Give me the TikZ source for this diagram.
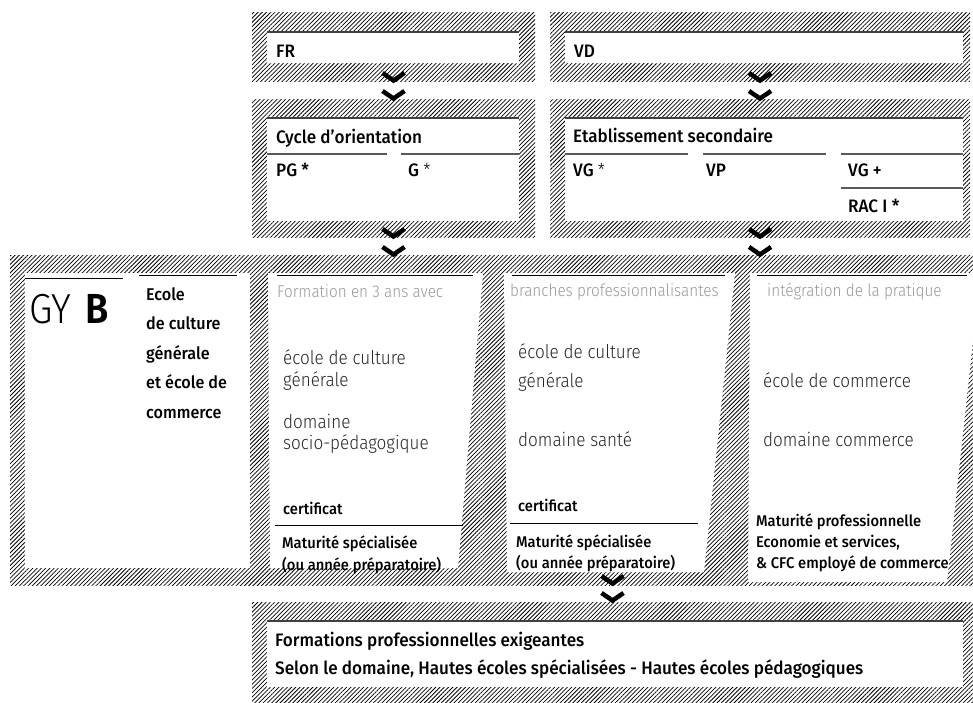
\documentclass[tikz,border=0pt]{standalone}
\usepackage{fontspec}
\IfFontExistsTF{Fira Sans Light}
  {\setmainfont{Fira Sans Light}[FakeStretch=0.9, BoldFont={Fira Sans Medium}, BoldFeatures={FakeStretch=0.95}]}
  {\setmainfont{Fira Sans}[FakeStretch=0.9, BoldFeatures={FakeStretch=0.95}]}
\IfFontExistsTF{Fira Sans SemiBold}
  {\newfontfamily\heavyfont{Fira Sans SemiBold}[FakeStretch=0.9]}
  {\newfontfamily\heavyfont{Fira Sans}[FakeStretch=0.9, UprightFont=*-Bold]}
\usetikzlibrary{patterns.meta,positioning,calc}

\begin{document}
\begin{tikzpicture}[x=1pt,y=-1pt,
    hatch/.style={pattern={Lines[angle=45,distance=3pt,line width=0.75pt]},pattern color=black,inner sep=0,outer sep=0,anchor=north west},
    white area/.style={fill=white,inner sep=0,outer sep=0,anchor=north west},
    rule/.style={draw=black!75,line width=1.3pt},
    thin rule/.style={draw=black,line width=0.9pt},
    head/.style={font=\fontsize{18}{20}\selectfont\bfseries,anchor=base west,inner sep=0},
    lbl/.style={font=\fontsize{15.5}{18}\selectfont\bfseries,anchor=base west,inner sep=0},
    big lbl/.style={font=\fontsize{17}{20}\selectfont\bfseries,anchor=base west,inner sep=0},
    soft/.style={font=\fontsize{19}{22}\selectfont,text=black!85,anchor=base west,inner sep=0},
    grey head/.style={font=\fontsize{17}{20}\selectfont,text=black!40,anchor=base west,inner sep=0},
    chev/.pic={\draw[line width=4.5pt,line join=miter] (-11,-4) -- (0,3.5) -- (11,-4);}]
  \useasboundingbox (0,0) rectangle (973,703);

  % cantons
  \node[hatch,minimum width=283pt,minimum height=69pt] (fr) at (252,13) {};
  \node[white area,minimum width=252pt,minimum height=31pt] (fr-in) at (267,32) {};
  \draw[rule] (fr-in.north west) -- (fr-in.north east);
  \node[head] (fr-txt) at (276,58) {FR};

  \node[hatch,minimum width=420pt,minimum height=69pt] (vd) at (550,13) {};
  \node[white area,minimum width=398pt,minimum height=31pt] (vd-in) at (565,32) {};
  \draw[rule] (vd-in.north west) -- (vd-in.north east);
  \node[head] (vd-txt) at (574,58) {VD};

  % ecoles secondaires
  \node[hatch,minimum width=283pt,minimum height=137pt] (cyc) at (252,100) {};
  \node[white area,minimum width=252pt,minimum height=103pt] (cyc-in) at (267,118) {};
  \draw[rule] (cyc-in.north west) -- (cyc-in.north east);
  \node[head] (cyc-txt) at (276,144) {Cycle d’orientation};
  \draw[rule,draw=black!65] (267,154) -- (387,154);
  \draw[rule,draw=black!65] (401,154) -- (519,154);
  \node[head] (pg) at (276,177) {PG *};
  \node[head] (g) at (408,177) {G {\mdseries *}};

  \node[hatch,minimum width=420pt,minimum height=137pt] (etab) at (550,100) {};
  \node[white area,minimum width=398pt,minimum height=103pt] (etab-in) at (565,118) {};
  \draw[rule] (etab-in.north west) -- (etab-in.north east);
  \node[head] (etab-txt) at (573,143) {Etablissement secondaire};
  \draw[rule,draw=black!65] (565,154) -- (688,154);
  \draw[rule,draw=black!65] (703,154) -- (826,154);
  \draw[rule,draw=black!65] (841,154) -- (963,154);
  \node[head] (vg) at (573,177) {VG {\mdseries *}};
  \node[head] (vp) at (706,177) {VP};
  \node[head] (vgp) at (848,177) {VG +};
  \draw[rule,draw=black!65] (841,188) -- (963,188);
  \node[head] (rac) at (848,213) {RAC I *};

  % GY B
  \node[hatch,minimum width=963pt,minimum height=330pt] (band) at (10,255) {};
  \fill[white] (25,273) rectangle (250,568);
  \fill[white] (268,273) -- (483,273) -- (458,568) -- (270,568) -- cycle;
  \fill[white] (504,273) -- (735,273) -- (704,572) -- (507,572) -- cycle;
  \fill[white] (750,273) -- (973,273) -- (973,340) -- (947,582) -- (748,582) -- cycle;
  \draw[thin rule] (25,278) -- (123,278);
  \draw[thin rule] (139,275) -- (237,275);
  \draw[thin rule] (277,275) -- (473,275);
  \draw[thin rule] (512,275) -- (725,275);
  \draw[thin rule] (757,275) -- (967,275);
  \draw[thin rule] (275,525) -- (463,525);
  \draw[thin rule] (510,523) -- (698,523);

  \node[anchor=base west,inner sep=0,font=\fontsize{42}{42}\selectfont] (gy) at (29,323) {GY\hspace{14pt}{\heavyfont B}};
  \node[big lbl] (ec1) at (146,300) {Ecole};
  \node[big lbl] (ec2) at (146,329.5) {de culture};
  \node[big lbl] (ec3) at (146,359) {générale};
  \node[big lbl] (ec4) at (146,388.5) {et école de};
  \node[big lbl] (ec5) at (146,418) {commerce};

  \node[grey head] (f-head) at (277,297) {Formation en 3 ans avec};
  \node[soft] (f1) at (283,364) {école de culture};
  \node[soft] (f2) at (283,386) {générale};
  \node[soft] (f3) at (283,428) {domaine};
  \node[soft] (f4) at (283,449) {socio-pédagogique};
  \node[lbl] (f-cert) at (283,514) {certificat};
  \node[lbl] (f-mat1) at (282,548) {Maturité spécialisée};
  \node[lbl] (f-mat2) at (282,570) {(ou année préparatoire)};

  \node[grey head] (b-head) at (510,296) {branches professionnalisantes};
  \node[soft] (b1) at (518,358) {école de culture};
  \node[soft] (b2) at (518,387) {générale};
  \node[soft] (b3) at (518,446) {domaine santé};
  \node[lbl] (b-cert) at (518,511) {certificat};
  \node[lbl] (b-mat1) at (516,547) {Maturité spécialisée};
  \node[lbl] (b-mat2) at (516,568) {(ou année préparatoire)};

  \node[grey head] (i-head) at (767,296) {intégration de la pratique};
  \node[soft] (i1) at (763,387) {école de commerce};
  \node[soft] (i2) at (763,446) {domaine commerce};
  \node[lbl] (i-mat1) at (756,526) {Maturité professionnelle};
  \node[lbl] (i-mat2) at (756,547) {Economie et services,};
  \node[lbl] (i-mat3) at (756,568) {\& CFC employé de commerce};

  % formations professionnelles
  \node[hatch,minimum width=721pt,minimum height=101pt] (fpe) at (252,602) {};
  \node[white area,minimum width=696pt,minimum height=66pt] (fpe-in) at (267,621) {};
  \draw[rule] (fpe-in.north west) -- (fpe-in.north east);
  \node[head] (fpe1) at (275,646) {Formations professionnelles exigeantes};
  \node[head] (fpe2) at (275,674) {Selon le domaine, Hautes écoles spécialisées - Hautes écoles pédagogiques};

  % chevrons
  \pic at ([yshift=5pt]fr.south) {chev};
  \pic at ([yshift=5pt]cyc.north) {chev};
  \pic at ([yshift=5pt]vd.south) {chev};
  \pic at ([yshift=5pt]etab.north) {chev};
  \pic at ([yshift=4pt]cyc.south) {chev};
  \pic at ([yshift=4pt]cyc.south |- band.north) {chev};
  \pic at ([yshift=4pt]etab.south) {chev};
  \pic at ([yshift=4pt]etab.south |- band.north) {chev};
  \pic at ([yshift=5pt]fpe.north |- band.south) {chev};
  \pic at ([yshift=5pt]fpe.north) {chev};
\end{tikzpicture}
\end{document}
